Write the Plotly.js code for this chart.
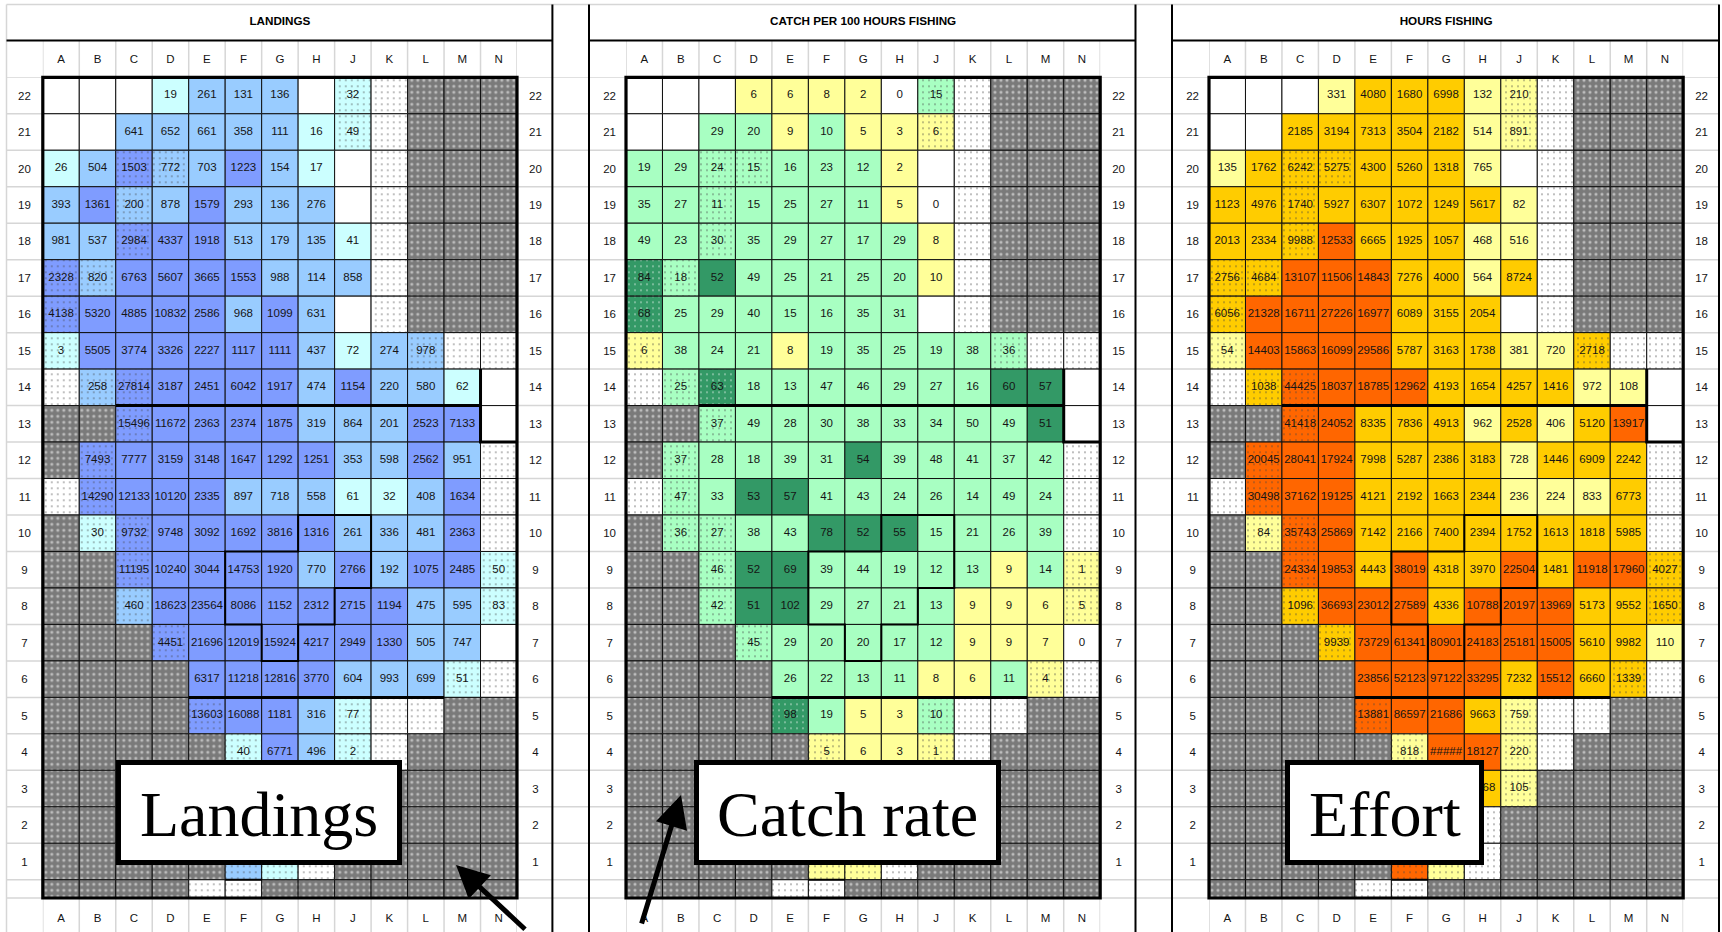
<!DOCTYPE html>
<html><head><meta charset="utf-8">
<script src="https://cdn.plot.ly/plotly-3.0.1.min.js"></script>
<style>html,body{margin:0;padding:0;background:#fff;overflow:hidden}#chart{width:1722px;height:932px}</style>
</head><body><div id="chart"></div>
<script>
const _ = null;
const columnLabels = ['A','B','C','D','E','F','G','H','J','K','L','M','N'];
const rowNumbers = [22,21,20,19,18,17,16,15,14,13,12,11,10,9,8,7,6,5,4,3,2,1,0];
// ' ' plain cell, '.' stippled cell, '#' land (grey); same for all three panels
const cellMask = [
"        ..###","        ..###","  ..     .###","  .      .###","  .      .###",
"..       .###",".        .###",".         ...","...          ","##.          ",
"#.          .","..          .","#..         .","##.         .","##.         .",
"###.         ","####       ..","####.   ...##","#####.  ..###","#####   .####",
"#####  .#####","#####...#####","####..#######"];

const landings = [
[_,_,_,19,261,131,136,_,32,_,_,_,_],
[_,_,641,652,661,358,111,16,49,_,_,_,_],
[26,504,1503,772,703,1223,154,17,_,_,_,_,_],
[393,1361,200,878,1579,293,136,276,_,_,_,_,_],
[981,537,2984,4337,1918,513,179,135,41,_,_,_,_],
[2328,820,6763,5607,3665,1553,988,114,858,_,_,_,_],
[4138,5320,4885,10832,2586,968,1099,631,_,_,_,_,_],
[3,5505,3774,3326,2227,1117,1111,437,72,274,978,_,_],
[_,258,27814,3187,2451,6042,1917,474,1154,220,580,62,_],
[_,_,15496,11672,2363,2374,1875,319,864,201,2523,7133,_],
[_,7493,7777,3159,3148,1647,1292,1251,353,598,2562,951,_],
[_,14290,12133,10120,2335,897,718,558,61,32,408,1634,_],
[_,30,9732,9748,3092,1692,3816,1316,261,336,481,2363,_],
[_,_,11195,10240,3044,14753,1920,770,2766,192,1075,2485,50],
[_,_,460,18623,23564,8086,1152,2312,2715,1194,475,595,83],
[_,_,_,4451,21696,12019,15924,4217,2949,1330,505,747,_],
[_,_,_,_,6317,11218,12816,3770,604,993,699,51,_],
[_,_,_,_,13603,16088,1181,316,77,_,_,_,_],
[_,_,_,_,_,40,6771,496,2,_,_,_,_],
[_,_,_,_,_,_,_,_,_,_,_,_,_],
[_,_,_,_,_,_,_,_,_,_,_,_,_],
[_,_,_,_,_,500,50,_,_,_,_,_,_],
[_,_,_,_,_,_,_,_,_,_,_,_,_]];

const catchRate = [
[_,_,_,6,6,8,2,0,15,_,_,_,_],
[_,_,29,20,9,10.4,5,3,6,_,_,_,_],
[19,29,24,15,16,23,12,2,_,_,_,_,_],
[35,27,11,15,25,27,11,5,0,_,_,_,_],
[49,23,30,35,29,27,17,29,8,_,_,_,_],
[84,18,52,49,25,21,25,20,9.8,_,_,_,_],
[68,25,29,40,15,16,35,31,_,_,_,_,_],
[6,38,24,21,8,19,35,25,19,38,36,_,_],
[_,25,63,18,13,47,46,29,27,16,60,57,_],
[_,_,37,49,28,30,38,33,34,49.7,49,51,_],
[_,37,28,18,39,31,54,39,48,41,37,42,_],
[_,47,33,53,57,41,43,24,26,14,49,24,_],
[_,36,27,38,43,78,52,55,15,21,26,39,_],
[_,_,46,52,69,39,44,19,12,13,9,14,1],
[_,_,42,51,102,29,27,21,13,9,9,6,5],
[_,_,_,45,29,20,20,17,12,9,9,7,0],
[_,_,_,_,26,22,13,11,8,6,11,4,_],
[_,_,_,_,98,19,5,3,10.2,_,_,_,_],
[_,_,_,_,_,5,6,3,1,_,_,_,_],
[_,_,_,_,_,_,_,_,_,_,_,_,_],
[_,_,_,_,_,_,_,_,_,_,_,_,_],
[_,_,_,_,_,5,5,_,_,_,_,_,_],
[_,_,_,_,_,_,_,_,_,_,_,_,_]];

const hoursFishing = [
[_,_,_,331,4080,1680,6998,132,210,_,_,_,_],
[_,_,2185,3194,7313,3504,2182,514,891,_,_,_,_],
[135,1762,6242,5275,4300,5260,1318,765,_,_,_,_,_],
[1123,4976,1740,5927,6307,1072,1249,5617,82,_,_,_,_],
[2013,2334,9988,12533,6665,1925,1057,468,516,_,_,_,_],
[2756,4684,13107,11506,14843,7276,4000,564,8724,_,_,_,_],
[6056,21328,16711,27226,16977,6089,3155,2054,_,_,_,_,_],
[54,14403,15863,16099,29586,5787,3163,1738,381,720,2718,_,_],
[_,1038,44425,18037,18785,12962,4193,1654,4257,1416,972,108,_],
[_,_,41418,24052,8335,7836,4913,962,2528,406,5120,13917,_],
[_,20045,28041,17924,7998,5287,2386,3183,728,1446,6909,2242,_],
[_,30498,37162,19125,4121,2192,1663,2344,236,224,833,6773,_],
[_,84,35743,25869,7142,2166,7400,2394,1752,1613,1818,5985,_],
[_,_,24334,19853,4443,38019,4318,3970,22504,1481,11918,17960,4027],
[_,_,1096,36693,23012,27589,4336,10788,20197,13969,5173,9552,1650],
[_,_,_,9939,73729,61341,80901,24183,25181,15005,5610,9982,110],
[_,_,_,_,23856,52123,97122,33295,7232,15512,6660,1339,_],
[_,_,_,_,13881,86597,21686,9663,759,_,_,_,_],
[_,_,_,_,_,818,'#####',18127,220,_,_,_,_],
[_,_,_,_,_,_,_,5868,105,_,_,_,_],
[_,_,_,_,_,_,_,_,_,_,_,_,_],
[_,_,_,_,_,20000,500,_,_,_,_,_,_],
[_,_,_,_,_,_,_,_,_,_,_,_,_]];

const W = 1722, H = 932;
const GREY = '#7a7a7a', WHITE = '#FFFFFF';
const colourLandings = v => v < 100 ? '#CCFFFF' : v < 1000 ? '#99CCFF' : '#7F9CFF';
const colourCatch = v => v === 0 ? WHITE : v < 10 ? '#FFFF99' : v < 50 ? '#A8FFC2' : '#339966';
const colourHours = v => typeof v === 'string' ? '#FF6600' : v < 1000 ? '#FFFF99' : v < 10000 ? '#FFCC00' : '#FF6600';

const panels = [
 {title:'LANDINGS', rows:landings, colour:colourLandings, left:42.8, right:517, leftStandoff:11, box:{t:'Landings',x0:116,x1:402}},
 {title:'CATCH PER 100 HOURS FISHING', rows:catchRate, colour:colourCatch, left:626, right:1100.2, leftStandoff:9, box:{t:'Catch rate',x0:694,x1:1001}},
 {title:'HOURS FISHING', rows:hoursFishing, colour:colourHours, left:1209, right:1683.2, leftStandoff:9, box:{t:'Effort',x0:1285,x1:1484}}
];
const gridTop = 77.3, gridBottom = 898;
const FONT = '"Liberation Sans", Arial, sans-serif';
const labelFont = {family:FONT, size:11.5, color:'#151515'};
const tickIdx = columnLabels.map((_c,i)=>i);
const rowTicks = rowNumbers.filter(r=>r>0);

const data = [], layout = {
  width:W, height:H, margin:{l:0,r:0,t:0,b:0,pad:0}, paper_bgcolor:'#fff', plot_bgcolor:'rgba(0,0,0,0)',
  showlegend:false, hovermode:false, barmode:'overlay', shapes:[], annotations:[], font:{family:FONT}
};
const sh = layout.shapes;
const LIGHT = {color:'#d6d6d6', width:1.5}, DARK = {color:'#000', width:2};

panels.forEach((p,k)=>{
  const n = 2*k+1, m = 2*k+2;
  const xa = n===1?'x':'x'+n, ya = n===1?'y':'y'+n, xb='x'+m, yb='y'+m;
  const axn = s => s==='x'||s==='y' ? s+'axis' : s[0]+'axis'+s.slice(1);
  const dx = [p.left/W, p.right/W], dy = [1-gridBottom/H, 1-gridTop/H];
  const xr = [-0.5,12.5], yr = [0,22.5];
  const base = {zeroline:false, showgrid:false, showline:false, ticks:'', tickfont:labelFont, fixedrange:true, ticklabelstandoff:11};
  layout[axn(xa)] = {...base, domain:dx, range:xr, anchor:ya, side:'bottom', tickmode:'array', tickvals:tickIdx, ticktext:columnLabels};
  layout[axn(ya)] = {...base, domain:dy, range:yr, anchor:xa, side:'left', tickmode:'array', tickvals:rowTicks,
      ticktext:rowTicks.map(r=>r<10?r+'\u00A0':''+r), ticklabelstandoff:p.leftStandoff};
  layout[axn(xb)] = {...base, domain:dx, range:xr, anchor:yb, side:'top', overlaying:xa, tickmode:'array', tickvals:tickIdx, ticktext:columnLabels,
      title:{text:'<b>'+p.title+'</b>', font:{family:FONT,size:11.7,color:'#000'}, standoff:24}};
  layout[axn(yb)] = {...base, domain:dy, range:yr, anchor:xb, side:'right', overlaying:ya, tickmode:'array', tickvals:rowTicks,
      ticktext:rowTicks.map(r=>r<10?'\u00A0'+r:''+r)};

  // cells
  const cx=[],cy=[],cb=[],cc=[],ps=[],pf=[],pz=[],po=[], tx=[],ty=[],tt=[];
  rowNumbers.forEach((r,i)=>{
    columnLabels.forEach((_c,j)=>{
      const mk = cellMask[i][j], v = p.rows[i][j];
      cx.push(j); cb.push(r===0?0:r-0.5); cy.push(r===0?0.5:1);
      if (mk==='#') { cc.push(GREY); ps.push('.'); pf.push('#a2a2a2'); pz.push(6); po.push(0.22); return; }
      cc.push(v===null?WHITE:p.colour(v));
      if (mk==='.') { ps.push('.'); pf.push('#1c1c1c'); pz.push(6); po.push(0.07); }
      else { ps.push(''); pf.push('#000'); pz.push(6); po.push(0.1); }
      if (v!==null) { tx.push(j); ty.push(r); tt.push(typeof v==='string'?v:String(Math.round(v))); }
    });
  });
  data.push({type:'bar', xaxis:xa, yaxis:ya, x:cx, y:cy, base:cb, width:1, orientation:'v',
    marker:{color:cc, line:{color:'#111',width:1}, pattern:{shape:ps, fgcolor:pf, size:pz, solidity:po, fillmode:'overlay'}}, hoverinfo:'skip'});
  data.push({type:'scatter', mode:'text', xaxis:xb, yaxis:yb, x:tx, y:ty, text:tt, textposition:'middle center',
    textfont:labelFont, cliponaxis:false, hoverinfo:'skip'});

  // spreadsheet gridlines outside the grid
  for (let c=-0.5;c<=12.5;c++) {
    [[40.6,gridTop],[gridBottom,H]].forEach(([a,b])=>sh.push({type:'line',layer:'below',xref:xa,yref:'paper',x0:c,x1:c,y0:1-a/H,y1:1-b/H,line:LIGHT}));
  }
  // heavy region outlines
  const heavy = (path,w)=>sh.push({type:'path',layer:'above',xref:xa,yref:ya,path,line:{color:'#000',width:w}});
  heavy('M1.5 13.5 L11.5 13.5 M11.5 14.5 L11.5 12.5 L12.5 12.5',3);
  heavy('M3.5 5.5 L10.5 5.5',3);
  heavy('M4.5 0.5 L5.5 0.5',2);
  heavy('M4.5 9.5 L6.5 9.5 L6.5 10.5 L8.5 10.5 L8.5 8.5 L7.5 8.5 L7.5 7.5 L6.5 7.5 L6.5 6.5 L5.5 6.5 L5.5 7.5 L4.5 7.5 Z',2);
  // grid frame
  sh.push({type:'rect',layer:'above',xref:'paper',yref:'paper',x0:dx[0],x1:dx[1],y0:dy[0],y1:dy[1],line:{color:'#000',width:3.2}});

  // label box and its text
  const bx = p.box, by0=760, by1=865, bw=5;
  layout.annotations.push({xref:'paper',yref:'paper',x:(bx.x0+bx.x1)/2/W,y:1-(by0+by1)/2/H,xanchor:'center',yanchor:'middle',
    text:' ',showarrow:false,font:{size:10},
    bgcolor:'#fff',bordercolor:'#000',borderwidth:bw,borderpad:0,width:bx.x1-bx.x0-2*bw,height:by1-by0-2*bw});
  layout.annotations.push({xref:'paper',yref:'paper',x:(bx.x0+bx.x1)/2/W,y:1-(by0+by1)/2/H,xanchor:'center',yanchor:'middle',yshift:-2,
    text:bx.t,showarrow:false,font:{family:'"Liberation Serif","Times New Roman",serif',size:64,color:'#000'}});
});

// sheet lines across the whole page
rowNumbers.forEach(r=>{ const y=r===0?0.5:r+0.5; sh.push({type:'line',layer:'below',xref:'paper',yref:'y',x0:6.5/W,x1:1719/W,y0:y,y1:y,line:LIGHT}); });
sh.push({type:'line',layer:'below',xref:'paper',yref:'paper',x0:6.5/W,x1:1719/W,y0:1-4.5/H,y1:1-4.5/H,line:LIGHT});
sh.push({type:'line',layer:'below',xref:'paper',yref:'paper',x0:6.5/W,x1:1719/W,y0:1-898/H,y1:1-898/H,line:LIGHT});
sh.push({type:'line',layer:'below',xref:'paper',yref:'paper',x0:6.5/W,x1:6.5/W,y0:0,y1:1-4.5/H,line:LIGHT});
[[6.5,552.4],[589,1135.5],[1172,1719]].forEach(([a,b])=>sh.push({type:'line',layer:'below',xref:'paper',yref:'paper',x0:a/W,x1:b/W,y0:1-40.6/H,y1:1-40.6/H,line:DARK}));
[552.4,589,1135.5,1172,1719].forEach(x=>sh.push({type:'line',layer:'below',xref:'paper',yref:'paper',x0:x/W,x1:x/W,y0:0,y1:1-4.5/H,line:DARK}));

// arrows
layout.annotations.push({xref:'paper',yref:'paper',x:456/W,y:1-865/H,ax:72,ay:86,axref:'pixel',ayref:'pixel',showarrow:true,arrowhead:2,arrowsize:1.3,arrowwidth:5,arrowcolor:'#000'});
layout.annotations.push({xref:'paper',yref:'paper',x:681/W,y:1-795/H,ax:-42,ay:158,axref:'pixel',ayref:'pixel',showarrow:true,arrowhead:2,arrowsize:1.3,arrowwidth:5,arrowcolor:'#000'});

Plotly.newPlot('chart', data, layout, {staticPlot:true, displayModeBar:false});
</script></body></html>
